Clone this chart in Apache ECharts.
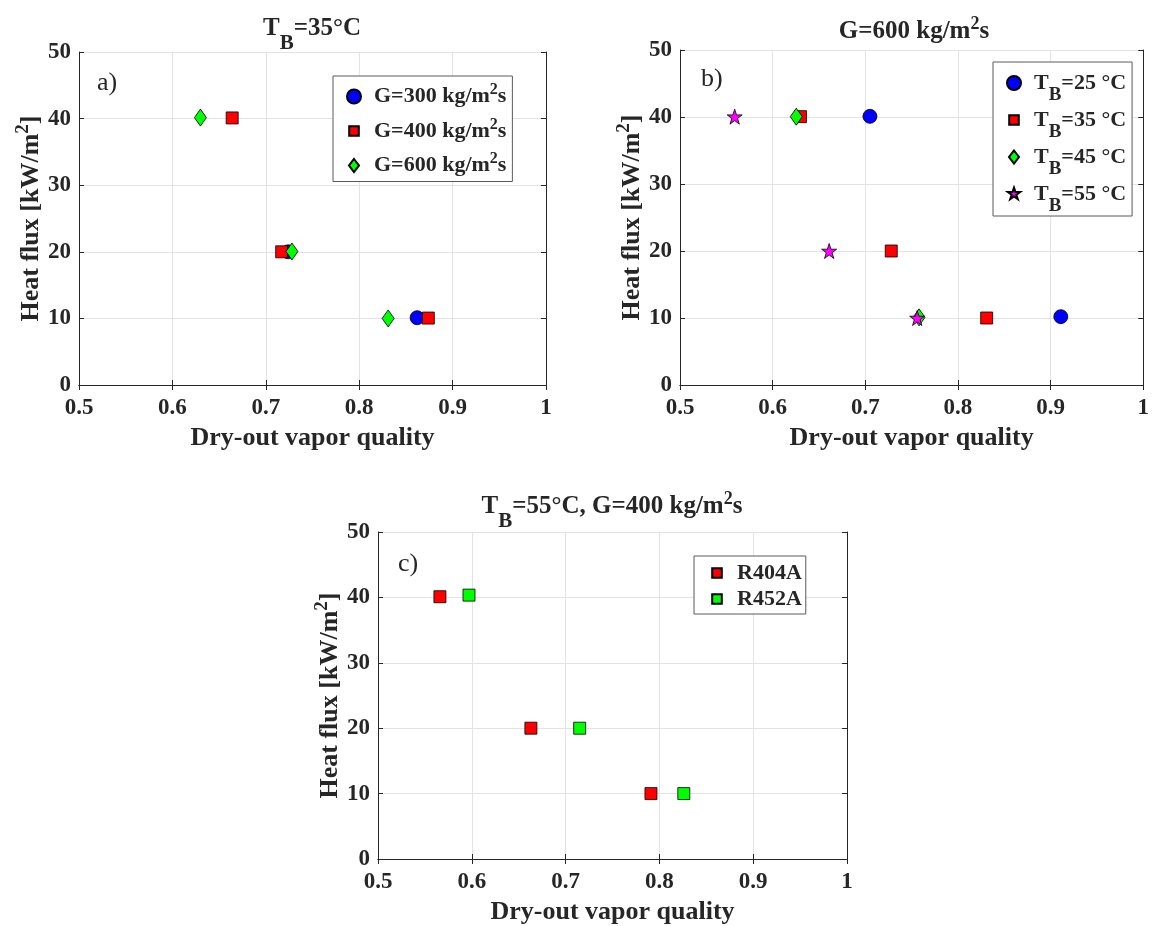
<!DOCTYPE html>
<html><head><meta charset="utf-8">
<script src="https://cdn.jsdelivr.net/npm/echarts@6/dist/echarts.min.js"></script>
<style>html,body{margin:0;padding:0;background:#fff}#c{width:1152px;height:926px}</style>
</head><body><div id="c"></div>
<script>
// ---- axes ----
const xMin = 0.5, xMax = 1, xStep = 0.1;
const yMin = 0, yMax = 50, yStep = 10;

// ---- panel a) T_B = 35 °C ----
const aG300Q = [0.724, 0.862], aG300H = [20.0, 10.1];
const aG400Q = [0.664, 0.717, 0.874], aG400H = [40.1, 20.0, 10.05];
const aG600Q = [0.630, 0.728, 0.831], aG600H = [40.15, 20.05, 10.0];

// ---- panel b) G = 600 kg/m2s ----
const bT25Q = [0.705, 0.911], bT25H = [40.1, 10.2];
const bT35Q = [0.630, 0.728, 0.831], bT35H = [40.05, 20.0, 10.0];
const bT45Q = [0.6255, 0.758], bT45H = [40.05, 10.1];
const bT55Q = [0.559, 0.661, 0.756], bT55H = [40.05, 20.0, 10.0];

// ---- panel c) T_B = 55 °C, G = 400 kg/m2s ----
const cR404Q = [0.566, 0.663, 0.791], cR404H = [40.1, 20.0, 10.0];
const cR452Q = [0.597, 0.715, 0.826], cR452H = [40.35, 20.0, 10.0];

const F = 'Liberation Serif';
const C = '#262626';
const zip = (q, h) => q.map((v, i) => [v, h[i]]);

const STAR = 'path://M50,0 L61.8,35.3 L98.9,35.3 L68.9,57.2 L80.3,92.7 L50,70.7 L19.7,92.7 L31.1,57.2 L1.1,35.3 L38.2,35.3 Z';
const DIAM = 'path://M6,0 L12,8 L6,16 L0,8 Z';
const L_CIRC = 'circle';
const L_RECT = 'path://M0,0 M14,14 M2.2,2.2 L11.8,2.2 L11.8,11.8 L2.2,11.8 Z';
const L_DIAM = 'path://M0,0 M14,14 M7,0.5 L12,7 L7,13.5 L2,7 Z';
const L_STAR = 'path://M0,0 M100,100 M50,4 L60.6,36 L94,36 L67,55.5 L77.3,87.5 L50,67.8 L22.7,87.5 L33,55.5 L6,36 L39.4,36 Z';

const grids = [
  {left: 79, top: 52, width: 467, height: 333},
  {left: 680, top: 50, width: 468, height: 335},
  {left: 378, top: 532, width: 469, height: 328}
];

function richSet(sz) {
  return {
    n: {fontFamily: F, fontWeight: 'bold', fontSize: sz, color: C},
    sup: {fontFamily: F, fontWeight: 'bold', fontSize: Math.round(sz * 0.72), color: C, padding: [0, 0, Math.round(sz * 0.6), 0]},
    sub: {fontFamily: F, fontWeight: 'bold', fontSize: Math.round(sz * 0.85), color: C, padding: [Math.round(sz * 1.15), 0, 0, 0]},
    sp: {width: 8}
  };
}

const labels = {
  a1: '{sp|}{n|G=300 kg/m}{sup|2}{n|s}',
  a2: '{sp|}{n|G=400 kg/m}{sup|2}{n|s}',
  a3: '{sp|}{n|G=600 kg/m}{sup|2}{n|s}',
  b1: '{sp|}{n|T}{sub|B}{n|=25 °C}',
  b2: '{sp|}{n|T}{sub|B}{n|=35 °C}',
  b3: '{sp|}{n|T}{sub|B}{n|=45 °C}',
  b4: '{sp|}{n|T}{sub|B}{n|=55 °C}',
  c1: '{sp|}{n|R404A}',
  c2: '{sp|}{n|R452A}'
};

const xAxes = [], yAxes = [];
grids.forEach((g, i) => {
  xAxes.push({
    gridIndex: i, type: 'value', min: xMin, max: xMax, interval: xStep,
    name: 'Dry-out vapor quality', nameLocation: 'middle', nameGap: 40,
    nameTextStyle: {fontFamily: F, fontWeight: 'bold', fontSize: 26, color: C},
    axisLine: {show: true, lineStyle: {color: C, width: 1}},
    axisTick: {show: true, inside: true, length: 5, lineStyle: {color: C}},
    axisLabel: {fontFamily: F, fontWeight: 'bold', fontSize: 23, color: C, margin: 12},
    splitLine: {show: true, lineStyle: {color: '#e3e3e3', width: 1}}
  });
  yAxes.push({
    gridIndex: i, type: 'value', min: yMin, max: yMax, interval: yStep,
    name: '{n|Heat flux [kW/m}{sup|2}{n|]}', nameLocation: 'middle', nameGap: 30, nameRotate: 90,
    nameTextStyle: {rich: richSet(26)},
    axisLine: {show: true, lineStyle: {color: C, width: 1}},
    axisTick: {show: true, inside: true, length: 5, lineStyle: {color: C}},
    axisLabel: {fontFamily: F, fontWeight: 'bold', fontSize: 23, color: C, margin: 8},
    splitLine: {show: true, lineStyle: {color: '#e3e3e3', width: 1}}
  });
});
grids.forEach((g, i) => {
  xAxes.push({
    gridIndex: i, type: 'value', position: 'top', min: xMin, max: xMax, interval: xStep,
    axisLine: {show: true, lineStyle: {color: C, width: 1}},
    axisTick: {show: true, inside: true, length: 5, lineStyle: {color: C}},
    axisLabel: {show: false}, splitLine: {show: false}
  });
  yAxes.push({
    gridIndex: i, type: 'value', position: 'right', min: yMin, max: yMax, interval: yStep,
    axisLine: {show: true, lineStyle: {color: C, width: 1}},
    axisTick: {show: true, inside: true, length: 5, lineStyle: {color: C}},
    axisLabel: {show: false}, splitLine: {show: false}
  });
});

const border = {borderColor: '#000', borderWidth: 0.8};
function sc(id, gi, q, h, symbol, size, color) {
  return {
    id: id, name: id, type: 'scatter', xAxisIndex: gi, yAxisIndex: gi,
    data: zip(q, h), symbol: symbol, symbolSize: size,
    itemStyle: Object.assign({color: color, opacity: 1}, border),
    emphasis: {disabled: true}, animation: false
  };
}

const series = [
  sc('a1', 0, aG300Q, aG300H, 'circle', 14, '#0000ff'),
  sc('a2', 0, aG400Q, aG400H, 'rect', 12, '#ff0000'),
  sc('a3', 0, aG600Q, aG600H, DIAM, [12, 17], '#00ff00'),
  sc('b1', 1, bT25Q, bT25H, 'circle', 14, '#0000ff'),
  sc('b2', 1, bT35Q, bT35H, 'rect', 12, '#ff0000'),
  sc('b3', 1, bT45Q, bT45H, DIAM, [12, 17], '#00ff00'),
  sc('b4', 1, bT55Q, bT55H, STAR, 15, '#ff00ff'),
  sc('c1', 2, cR404Q, cR404H, 'rect', 12, '#ff0000'),
  sc('c2', 2, cR452Q, cR452H, 'rect', 12, '#00ff00')
];

function legend(data, left, top, pad, gap, sz) {
  return {
    orient: 'vertical', left: left, top: top, padding: pad, itemGap: gap,
    itemWidth: 14, itemHeight: 14,
    data: data, selectedMode: false,
    borderColor: '#5a5a5a', borderWidth: 1, backgroundColor: '#fff', borderRadius: 0,
    formatter: name => labels[name],
    textStyle: {rich: richSet(sz)}
  };
}

const option = {
  animation: false,
  backgroundColor: '#fff',
  grid: grids.map(g => Object.assign({show: false, containLabel: false}, g)),
  xAxis: xAxes,
  yAxis: yAxes,
  title: [
    {text: '{n|T}{sub|B}{n|=35°C}', left: 312, top: 4, textAlign: 'center', padding: 0, textStyle: {rich: richSet(25)}},
    {text: '{n|G=600 kg/m}{sup|2}{n|s}', left: 914, top: 15, textAlign: 'center', padding: 0, textStyle: {rich: richSet(25)}},
    {text: '{n|T}{sub|B}{n|=55°C, G=400 kg/m}{sup|2}{n|s}', left: 612, top: 482, textAlign: 'center', padding: 0, textStyle: {rich: richSet(25)}},
    {text: 'a)', left: 97, top: 70, padding: 0, textStyle: {fontFamily: F, fontWeight: 'normal', fontSize: 26, color: C}},
    {text: 'b)', left: 701, top: 66, padding: 0, textStyle: {fontFamily: F, fontWeight: 'normal', fontSize: 26, color: C}},
    {text: 'c)', left: 398, top: 551, padding: 0, textStyle: {fontFamily: F, fontWeight: 'normal', fontSize: 26, color: C}}
  ],
  legend: [
    legend([{name: 'a1', icon: L_CIRC}, {name: 'a2', icon: L_RECT}, {name: 'a3', icon: L_DIAM}], 333, 76, [6, 6, 5, 13], 9, 22),
    legend([{name: 'b1', icon: L_CIRC}, {name: 'b2', icon: L_RECT}, {name: 'b3', icon: L_DIAM}, {name: 'b4', icon: L_STAR}], 993, 62, [10, 6, 0, 13], 4, 22),
    legend([{name: 'c1', icon: L_RECT}, {name: 'c2', icon: L_RECT}], 694, 556, [6, 4, 4, 15], 4, 22)
  ],
  series: series
};

const chart = echarts.init(document.getElementById('c'), null, {renderer: 'canvas'});
chart.setOption(option);
</script>
</body></html>
